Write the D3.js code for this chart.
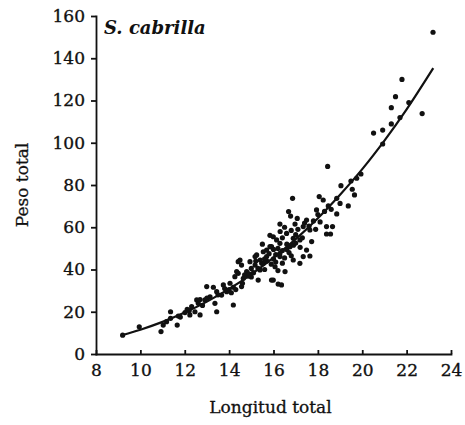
<!DOCTYPE html>
<html>
<head>
<meta charset="utf-8">
<script src="https://cdn.jsdelivr.net/npm/d3@7"></script>
<style>
    body { margin: 0; background: #fff; }
    .axis text { font-family: "DejaVu Serif", serif; font-size: 17px; fill: #111; stroke: #111; stroke-width: 0.35px; }
    .axis path, .axis line { stroke: #111; stroke-width: 1.8px; }
    .label { font-family: "DejaVu Serif", serif; font-size: 17px; fill: #111; stroke: #111; stroke-width: 0.3px; }
</style>
</head>
<body>
<svg class="chart"></svg>
<script>
// longitud total (cm) y peso total (g) de cada ejemplar
var lengths = [
    9.2, 9.95, 10.93, 11.03, 11.18, 11.36, 11.36, 11.66, 11.71, 12.01,
    12.11, 12.23, 12.46, 12.61, 12.69, 12.31, 12.54, 12.69, 12.91, 12.99,
    13.14, 13.29, 13.36, 13.44, 13.44, 13.66, 13.74, 13.89, 14.04, 14.19,
    14.19, 14.26, 14.34, 14.41, 14.41, 14.49, 14.56, 14.56, 14.64, 14.79,
    14.86, 14.94, 15.17, 15.17, 15.24, 15.31, 15.39, 15.47, 15.54, 15.54,
    15.69, 15.69, 15.84, 15.84, 15.91, 15.91, 15.99, 15.99, 16.07, 16.14,
    16.21, 16.29, 16.29, 16.29, 16.29, 16.36, 16.52, 16.59, 16.68, 16.74,
    16.77, 16.86, 16.89, 16.89, 16.97, 17.07, 17.19, 17.19, 17.34, 17.34,
    17.49, 17.49, 17.64, 17.64, 17.72, 17.94, 18.06, 18.24, 18.39, 18.39,
    18.44, 18.47, 18.57, 18.66, 18.85, 18.85, 19.0, 19.04, 19.37, 19.49,
    19.55, 19.65, 19.75, 19.94, 20.51, 20.92, 20.92, 21.31, 21.31, 21.5,
    21.7, 21.79, 22.1, 22.7, 23.19,
    14.0, 14.1, 13.8, 14.3, 14.6, 14.7, 14.9, 15.0, 15.1, 15.2,
    15.4, 15.6, 15.7, 15.8, 16.0, 16.0, 16.1, 16.2, 16.4, 16.4,
    16.5, 16.6, 16.7, 16.8, 16.9, 17.0, 17.1, 17.2, 17.3, 17.4,
    17.6, 17.8, 17.9, 18.0, 18.1, 18.3, 18.6, 16.3, 16.5, 15.5,
    13.0, 12.8, 13.5, 11.8, 12.2,
    15.3, 15.6, 15.9, 16.1, 16.4, 16.6, 16.8, 17.0, 16.2, 15.0
];
var weights = [
    8.9, 12.9, 10.6, 13.7, 15.3, 16.9, 20.0, 13.7, 18.0, 19.6,
    21.1, 18.5, 20.0, 24.0, 18.5, 22.4, 25.6, 25.8, 25.6, 31.9,
    27.1, 31.6, 24.0, 29.5, 20.0, 27.9, 32.7, 29.5, 33.5, 31.6,
    23.2, 36.6, 39.0, 38.2, 43.7, 44.5, 42.1, 31.9, 35.8, 39.0,
    36.9, 43.7, 42.1, 46.1, 46.9, 35.0, 39.8, 42.9, 42.9, 48.4,
    49.2, 46.1, 56.2, 50.8, 50.8, 35.0, 55.5, 35.0, 41.3, 54.0,
    33.1, 61.5, 52.4, 47.7, 46.1, 32.7, 39.0, 57.1, 67.4, 50.8,
    65.3, 73.7, 54.8, 44.5, 61.5, 64.2, 54.0, 42.9, 60.3, 46.1,
    63.4, 49.2, 58.7, 46.4, 53.2, 68.2, 74.5, 72.9, 60.3, 56.8,
    88.8, 70.1, 56.8, 60.3, 66.3, 73.7, 71.3, 79.7, 70.1, 81.9,
    78.0, 75.3, 83.2, 85.2, 104.6, 106.0, 99.4, 116.6, 108.9, 121.8,
    111.9, 130.0, 119.0, 113.8, 152.3,
    30.5, 29.0, 31.0, 30.5, 33.5, 37.5, 38.0, 40.5, 38.5, 44.0,
    44.5, 40.0, 44.0, 47.5, 45.0, 49.5, 43.5, 50.0, 49.0, 55.0,
    45.5, 52.0, 48.0, 58.5, 51.5, 56.5, 59.0, 50.5, 55.0, 62.0,
    60.5, 63.0, 59.0, 66.0, 62.5, 67.5, 68.5, 58.0, 60.0, 52.0,
    26.5, 23.0, 28.0, 17.5, 20.5,
    40.5, 45.0, 42.5, 47.0, 43.0, 49.5, 46.5, 52.5, 39.5, 36.5
];

// curva ajustada, puntos leidos sobre la linea
var curveLengths = [9.2, 10, 11, 12, 13, 14, 15, 16, 17, 18, 19, 20, 21, 22, 23.2];
var curveWeights = [9.0, 11.5, 15.2, 19.6, 24.8, 30.8, 37.7, 45.6, 54.4, 64.3, 75.4, 87.5, 101.0, 115.8, 135.3];

var xTicks = [8, 10, 12, 14, 16, 18, 20, 22, 24];
var yTicks = [0, 20, 40, 60, 80, 100, 120, 140, 160];

var outerSize = {width: 465, height: 425};
var margin = {top: 16, right: 14, bottom: 71, left: 96};
var innerSize = {width: outerSize.width - margin.left - margin.right,
    height: outerSize.height - margin.top - margin.bottom};

var svg = d3.select(".chart")
        .attr("width", outerSize.width)
        .attr("height", outerSize.height);
var chart = svg.append("g")
        .attr("transform", "translate(" + margin.left + "," + margin.top + ")");

var xRange = d3.scaleLinear().domain([8, 24]).range([0, innerSize.width]);
var yRange = d3.scaleLinear().domain([0, 160]).range([innerSize.height, 0]);

chart.append("g")
        .attr("class", "x axis")
        .attr("transform", "translate(0," + innerSize.height + ")")
        .call(d3.axisBottom(xRange).tickValues(xTicks).tickFormat(d3.format("d"))
            .tickSizeInner(-4).tickSizeOuter(0).tickPadding(10));

chart.append("g")
        .attr("class", "y axis")
        .call(d3.axisLeft(yRange).tickValues(yTicks).tickFormat(d3.format("d"))
            .tickSizeInner(5).tickSizeOuter(0).tickPadding(6));

chart.selectAll(".axis .domain").attr("stroke-linecap", "square");

var pts = lengths.map(function (l, i) { return [l, weights[i]]; });
chart.selectAll(".dot")
        .data(pts)
        .enter().append("circle")
        .attr("class", "dot")
        .attr("cx", function (d) { return xRange(d[0]); })
        .attr("cy", function (d) { return yRange(d[1]); })
        .attr("r", 2.6)
        .attr("fill", "#111");

var line = d3.line()
        .x(function (d) { return xRange(d[0]); })
        .y(function (d) { return yRange(d[1]); })
        .curve(d3.curveCatmullRom);
chart.append("path")
        .datum(curveLengths.map(function (l, i) { return [l, curveWeights[i]]; }))
        .attr("d", line)
        .attr("fill", "none")
        .attr("stroke", "#111")
        .attr("stroke-width", 2.2);

chart.append("text")
        .attr("x", 8)
        .attr("y", 18)
        .style("font-family", "'DejaVu Serif', serif")
        .style("font-size", "18px")
        .style("font-weight", "bold")
        .style("font-style", "italic")
        .attr("fill", "#111")
        .text("S. cabrilla");

svg.append("text")
        .attr("class", "label")
        .attr("x", margin.left + innerSize.width / 2 - 3)
        .attr("y", 413)
        .style("text-anchor", "middle")
        .text("Longitud total");

svg.append("text")
        .attr("class", "label")
        .attr("transform", "translate(28," + 185 + ") rotate(-90)")
        .style("text-anchor", "middle")
        .text("Peso total");
</script>
</body>
</html>
